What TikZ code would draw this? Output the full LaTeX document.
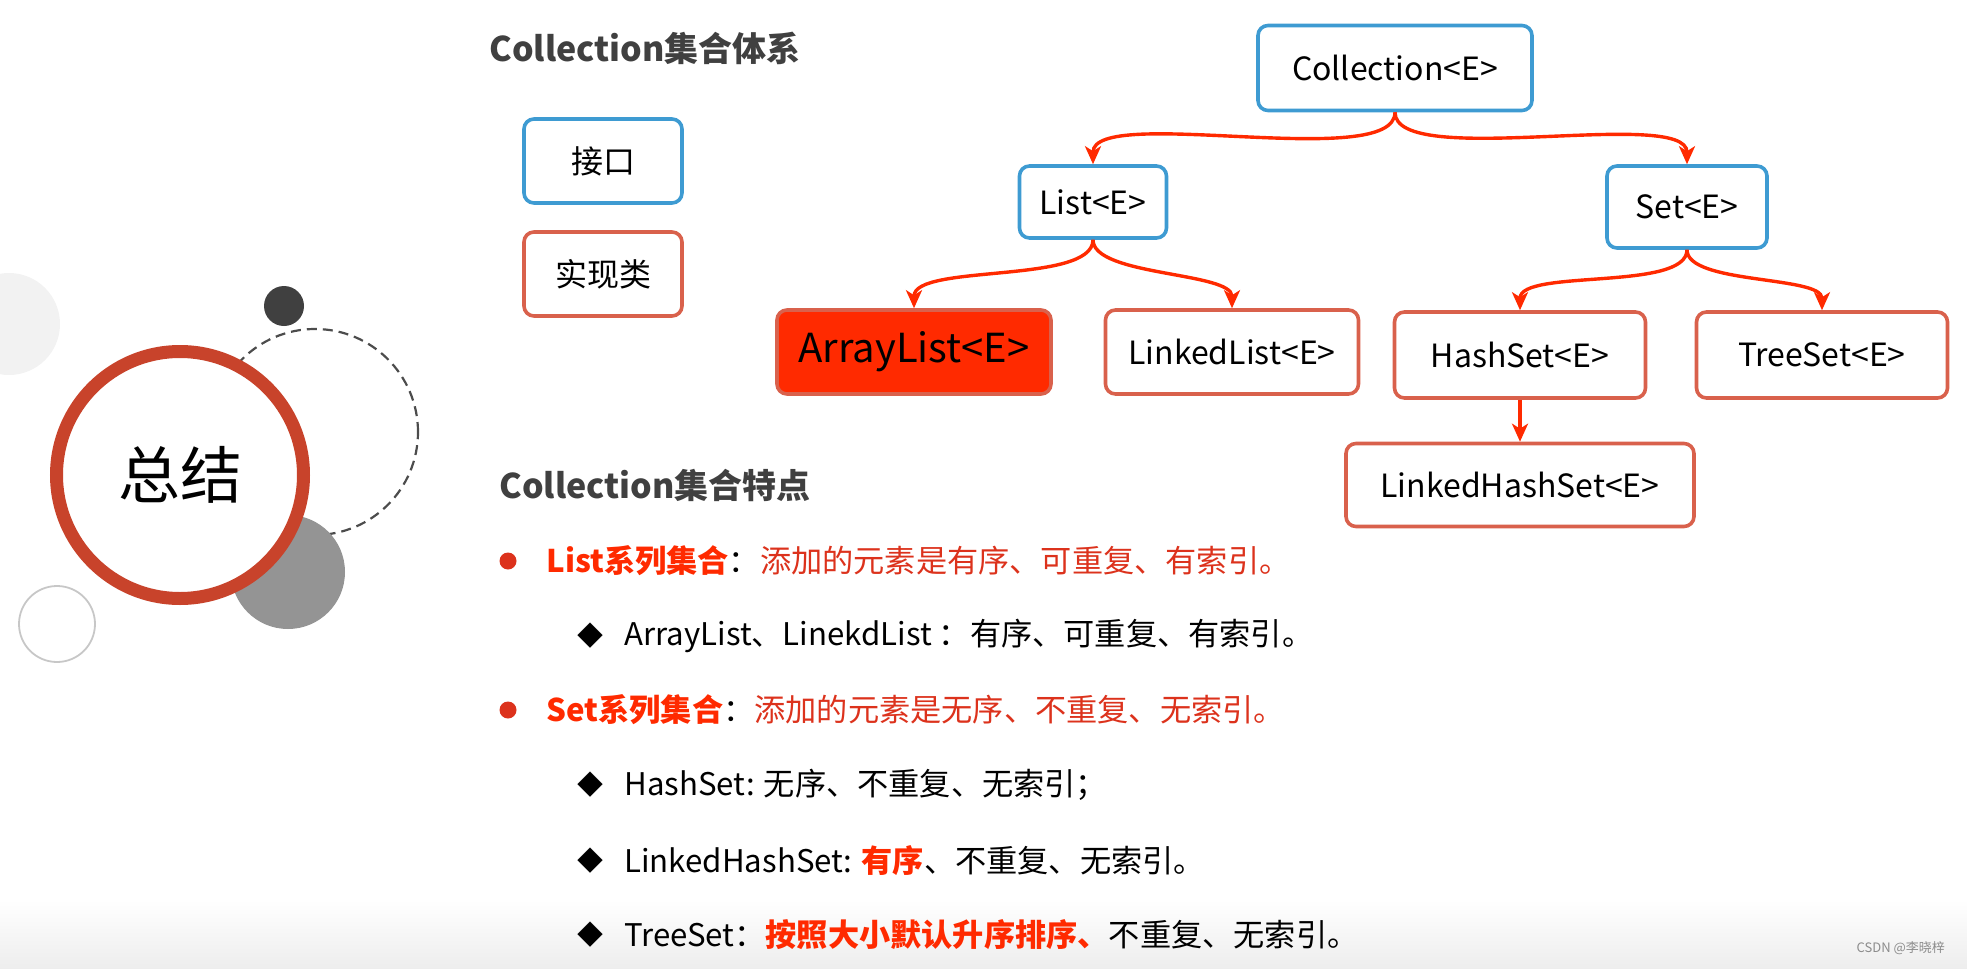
\documentclass[tikz,border=0pt]{standalone}
\usepackage{fontspec}
\setmainfont{Noto Sans CJK SC}
\usetikzlibrary{positioning,calc}
\usetikzlibrary{arrows,arrows.meta}
\definecolor{ifblue}{HTML}{3E9BD2}
\definecolor{clsred}{HTML}{D9614C}
\definecolor{arrred}{HTML}{FF2A00}
\definecolor{txtred}{HTML}{DC321C}
\definecolor{headgray}{HTML}{404040}
\definecolor{ringred}{HTML}{C8432B}
\tikzset{
  box/.style={draw, rounded corners=5pt, line width=1.8pt, fill=white, inner sep=0pt,
    font=\fontsize{16}{18}\selectfont},
  iface/.style={box, draw=ifblue},
  impl/.style={box, draw=clsred},
  arr/.style={-{Stealth[length=9pt,width=8pt,inset=2.5pt]}, draw=arrred, line width=1.7pt},
  head/.style={anchor=west, inner sep=0pt, text=headgray, font=\bfseries\fontsize{17}{20}\selectfont},
  item/.style={anchor=west, inner sep=0pt, font=\fontsize{15.6}{18}\selectfont},
  dot/.style={circle, fill=txtred, minimum size=8.5pt, inner sep=0pt},
  diamondmark/.style={inner sep=0pt, font=\fontsize{13}{15}\selectfont}
}
\newcommand{\hl}[1]{\textcolor{arrred}{\bfseries #1}}

\begin{document}
\begin{tikzpicture}[x=0.5pt, y=-0.5pt]
\useasboundingbox (0,0) rectangle (1967,969);
\shade[top color=white, bottom color=black!7] (0,900) rectangle (1967,969);

% left decoration
\fill[black!5] (9,324) circle (25.5pt);
\draw[black!22, line width=0.9pt] (57,624) circle (19pt);
\draw[black!70, dashed, dash pattern=on 5pt off 3pt, line width=1.1pt] (315,432) circle (51.5pt);
\fill[black!42] (288,572) circle (28.5pt);
\fill[black!75] (284,306) circle (10pt);
\draw[ringred, line width=6.5pt, fill=white] (180,475) circle (61.75pt);
\node (sum) at (180,475) {\fontsize{31}{33}\selectfont 总结};

% legend
\node[head] (title1) at (489,48) {Collection集合体系};
\node[iface, minimum width=79pt, minimum height=42pt] (iface) at (603,161) {接口};
\node[impl, minimum width=79pt, minimum height=42pt] (impl) at (603,274) {实现类};

% hierarchy
\node[iface, minimum width=137pt, minimum height=42.5pt] (coll) at (1395,68) {Collection<E>};
\node[iface, minimum width=73.5pt, minimum height=36pt] (list) at (1093,202) {List<E>};
\node[iface, minimum width=80pt, minimum height=41pt] (set) at (1687,207) {Set<E>};
\node[impl, fill=arrred, minimum width=137pt, minimum height=42pt,
  font=\fontsize{20}{22}\selectfont] (alist) at (914,352) {ArrayList<E>};
\node[impl, minimum width=126.5pt, minimum height=42pt] (llist) at (1232,352) {LinkedList<E>};
\node[impl, minimum width=125.5pt, minimum height=43pt] (hset) at (1520,355) {HashSet<E>};
\node[impl, minimum width=125.5pt, minimum height=43pt] (tset) at (1822,355) {TreeSet<E>};
\node[impl, minimum width=174pt, minimum height=41.5pt] (lhset) at (1520,485) {LinkedHashSet<E>};

\draw[arr] (coll.south) to[out=-90, in=90, looseness=.5] (list.north);
\draw[arr] (coll.south) to[out=-90, in=90, looseness=.5] (set.north);
\draw[arr] (list.south) to[out=-90, in=90, looseness=.6] (alist.north);
\draw[arr] (list.south) to[out=-90, in=90, looseness=.6] (llist.north);
\draw[arr] (set.south) to[out=-90, in=90, looseness=.6] (hset.north);
\draw[arr] (set.south) to[out=-90, in=90, looseness=.6] (tset.north);
\draw[arr] (hset) -- (lhset);

% features
\node[head] (title2) at (499,485) {Collection集合特点};
\node[dot] (b1) at (508,561) {};
\node[item] (t1) at (546,561) {\hl{List系列集合}：\textcolor{txtred}{添加的元素是有序、可重复、有索引。}};
\node[diamondmark] (d1) at (590,636) {◆};
\node[item] (t2) at (624,636) {ArrayList、LinekdList ：有序、可重复、有索引。};
\node[dot] (b2) at (508,710) {};
\node[item] (t3) at (546,710) {\hl{Set系列集合}：\textcolor{txtred}{添加的元素是无序、不重复、无索引。}};
\node[diamondmark] (d2) at (590,785) {◆};
\node[item] (t4) at (624,785) {HashSet: 无序、不重复、无索引；};
\node[diamondmark] (d3) at (590,861) {◆};
\node[item] (t5) at (624,861) {LinkedHashSet: \hl{有序}、不重复、无索引。};
\node[diamondmark] (d4) at (590,935) {◆};
\node[item] (t6) at (624,935) {TreeSet：\hl{按照大小默认升序排序、}不重复、无索引。};

\node[anchor=east, text=black!45, font=\fontsize{6.5}{8}\selectfont] (wm) at (1952,948) {CSDN @李晓梓};
\end{tikzpicture}
\end{document}
